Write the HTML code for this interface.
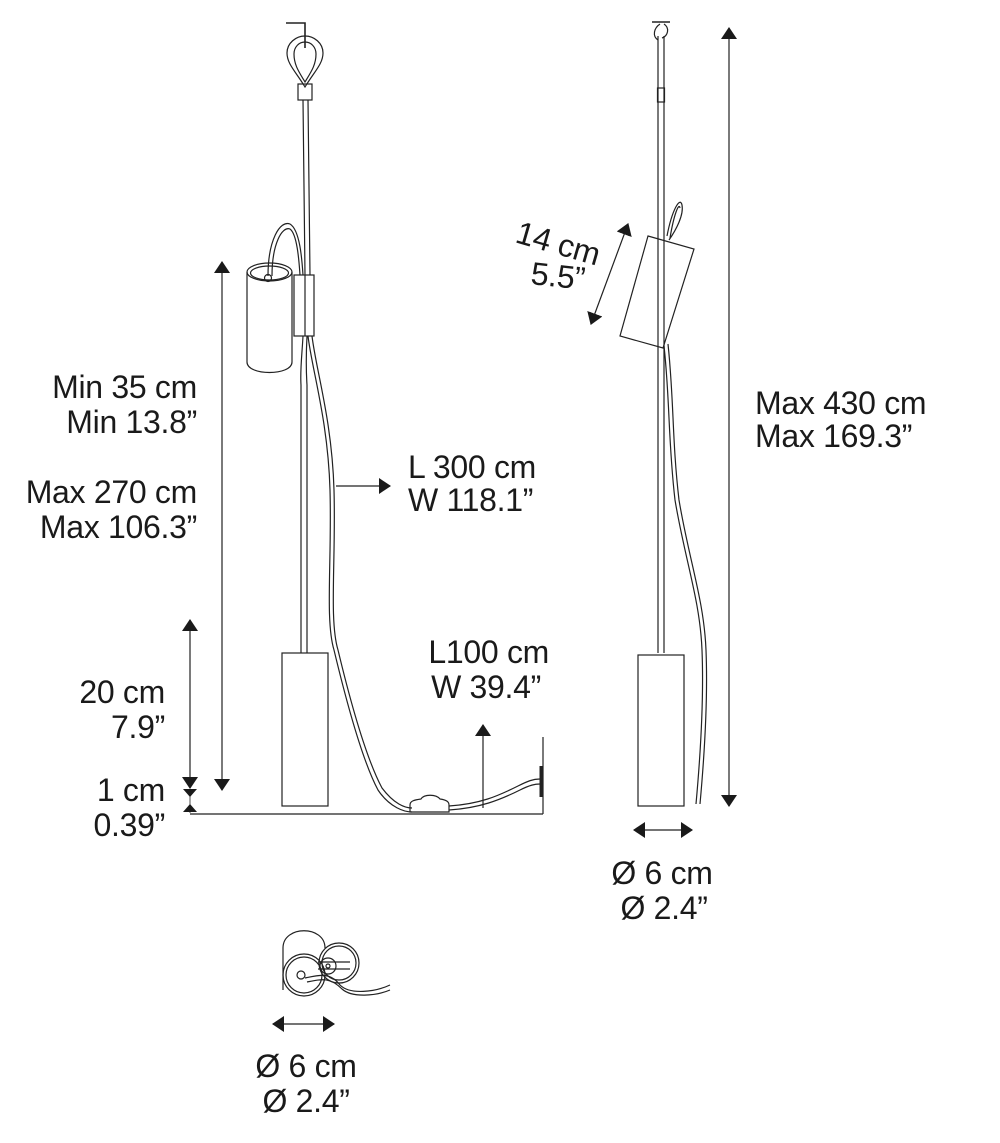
<!DOCTYPE html>
<html><head><meta charset="utf-8"><style>
html,body{margin:0;padding:0;background:#fff;}
svg{display:block;}
text{font-family:"Liberation Sans",sans-serif;font-size:32px;fill:#1a1a1a;letter-spacing:-0.3px;}
</style></head><body>
<svg width="1000" height="1143" viewBox="0 0 1000 1143" xmlns="http://www.w3.org/2000/svg">
<defs>
<marker id="a" viewBox="0 0 12 16" refX="11" refY="8" markerWidth="12" markerHeight="16" markerUnits="userSpaceOnUse" orient="auto-start-reverse"><path d="M0,0 L12,8 L0,16 z" fill="#1a1a1a"/></marker>
</defs>
<g fill="none" stroke="#222" stroke-width="1.2">
<!-- LEFT LAMP -->
<path d="M286,23 H305 V48" stroke-width="1.6"/>
<path d="M305,87 C296,72 287,64 287,53 C287,43 296,36 305,36 C314,36 323,43 323,53 C323,64 314,72 305,87 Z"/>
<path d="M305,82 C299,72 294,65 294,54 C294,47 299,42 305,42 C311,42 316,47 316,54 C316,65 311,72 305,82 Z"/>
<rect x="298" y="84" width="14" height="16"/>
<path d="M303,100 L305,275 M308,100 L310,275"/>
<!-- spot -->
<path d="M247,272 V362 C247,376 292,376 292,362 V272"/>
<ellipse cx="269.5" cy="272" rx="22.5" ry="9"/>
<ellipse cx="269.5" cy="273" rx="19" ry="7"/>
<circle cx="268" cy="278" r="3.5"/>
<path d="M268,276 C268,240 280,220 290,224 C300,230 302,260 303,275 M272,276 C272,244 282,226 290,229 C297,234 299,260 300,275"/>
<rect x="294" y="275" width="20" height="61"/>
<path d="M305,275 V336"/>
<!-- rod + cable -->
<path d="M301,385 V653 M307,385 V653"/>
<path d="M303,336 C302,355 300,370 301,385 M307,336 C306,355 306,370 307,385"/>
<path d="M308,336 C312,370 328,420 330,490 C332,560 325,620 334,650 C346,700 362,760 378,790 C390,808 405,812 412,812"/>
<path d="M312,336 C316,370 332,420 334,490 C336,560 329,620 338,650 C350,700 366,758 382,788 C394,804 405,808 412,808"/>
<rect x="282" y="653" width="46" height="153"/>
<path d="M190,814 H543 M543,737 V814"/>
<path d="M541,766 V797" stroke-width="3"/>
<path d="M410,812 V805 C410,801 414,800 421,799 C424,794 436,794 440,799 C447,800 449,802 449,805 V812 Z"/>
<path d="M449,810 C480,808 500,800 520,790 C530,785 535,784 540,784 M449,806 C480,804 498,796 518,786 C528,781 533,779 540,779"/>
<!-- dims left -->
<path d="M222,262 V790" marker-start="url(#a)" marker-end="url(#a)"/>
<path d="M190,620 V788" marker-start="url(#a)" marker-end="url(#a)"/>
<path d="M190,795 V813" stroke-width="0.8"/>
<path d="M183,789 h14 l-7,8 z M183,812 h14 l-7,-8 z" fill="#1a1a1a" stroke="none"/>
<path d="M483,725 V808" marker-start="url(#a)"/>
<path d="M336,486 H390" marker-end="url(#a)"/>
<!-- RIGHT LAMP -->
<path d="M652,22 H670" stroke-width="1.6"/>
<path d="M660,24 C654,28 652,36 658,40 M664,24 C670,28 668,36 662,38"/>
<path d="M658,36 V653 M664,36 V653"/>
<rect x="657.5" y="88" width="7" height="14"/>
<path d="M667,236 C672,210 680,196 682,205 C684,215 676,230 669,240 M670,238 C674,214 679,202 680,208"/>
<path d="M648,236 L694,249 L663,348 L620,336 Z"/>
<path d="M664,346 C670,400 668,440 675,500 C685,560 700,600 702,650 C704,700 700,760 696,804 M668,344 C674,400 672,440 679,500 C689,560 704,600 706,650 C708,700 704,760 700,804"/>
<rect x="638" y="655" width="46" height="151"/>
<path d="M628,224 L591,324" marker-start="url(#a)" marker-end="url(#a)"/>
<path d="M729,28 V806" marker-start="url(#a)" marker-end="url(#a)"/>
<path d="M634,830 H692" marker-start="url(#a)" marker-end="url(#a)"/>
<!-- TOP VIEW -->
<path d="M283,990 V948 C283,925 325,925 325,948"/>
<circle cx="304" cy="975" r="21"/><circle cx="304" cy="975" r="18"/>
<circle cx="339" cy="963" r="20"/><circle cx="339" cy="963" r="17"/>
<circle cx="301" cy="975" r="4"/>
<circle cx="328" cy="966" r="8"/><circle cx="328" cy="966" r="2"/>
<path d="M305,978 C320,975 330,972 340,985 C350,995 375,992 390,985 M307,982 C322,979 330,977 342,989 C352,998 376,996 390,990"/>
<path d="M318,962 H350 M318,969 H350"/>
<path d="M273,1024 H334" marker-start="url(#a)" marker-end="url(#a)"/>
</g>
<g>
<text x="197" y="398" text-anchor="end">Min 35 cm</text>
<text x="197" y="433" text-anchor="end">Min 13.8”</text>
<text x="197" y="503" text-anchor="end">Max 270 cm</text>
<text x="197" y="538" text-anchor="end">Max 106.3”</text>
<text x="165" y="703" text-anchor="end">20 cm</text>
<text x="165" y="738" text-anchor="end">7.9”</text>
<text x="165" y="801" text-anchor="end">1 cm</text>
<text x="165" y="836" text-anchor="end">0.39”</text>
<text x="408" y="478">L 300 cm</text>
<text x="408" y="511">W 118.1”</text>
<text x="549" y="663" text-anchor="end">L100 cm</text>
<text x="541" y="698" text-anchor="end">W 39.4”</text>
<text x="755" y="414">Max 430 cm</text>
<text x="755" y="447">Max 169.3”</text>
<text x="662" y="884" text-anchor="middle">Ø 6 cm</text>
<text x="664" y="919" text-anchor="middle">Ø 2.4”</text>
<text x="306" y="1077" text-anchor="middle">Ø 6 cm</text>
<text x="306" y="1112" text-anchor="middle">Ø 2.4”</text>
<text x="0" y="0" transform="translate(514,242) rotate(16)">14 cm</text>
<text x="0" y="0" transform="translate(530,284) rotate(6)">5.5”</text>
</g>
</svg>
</body></html>
